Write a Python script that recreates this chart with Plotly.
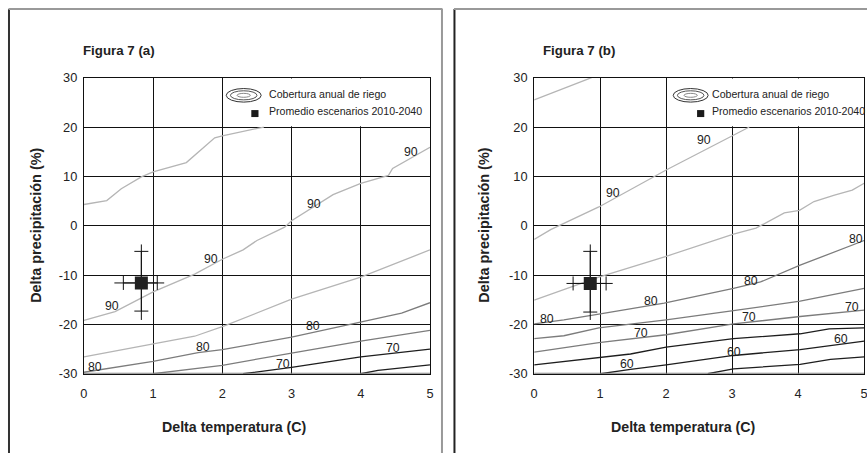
import plotly.graph_objects as go

# page size (slightly larger than the 867x453 window; the photographed page is mapped
# with a small offset/scale, so positions below are given in photographed pixels)
W, H = 871, 462
SX, OX = 0.992, 2.5
SY, OY = 0.9706, 7.4

# ---------------- Panel (a) data: iso-coverage lines (Delta T, Delta P) ----------------
a_l1_t = [0, 0.33, 0.54, 0.83, 1.0, 1.48, 1.89, 2.0, 2.6]
a_l1_p = [4.3, 5.1, 7.5, 9.9, 10.9, 12.8, 17.8, 18.2, 20.0]
a_l2_t = [0, 0.45, 1.0, 1.6, 2.0, 2.3, 2.5, 2.9, 3.0, 3.6, 4.0, 4.4, 4.46, 5.0]
a_l2_p = [-19.2, -17.4, -13.4, -9.8, -6.8, -4.9, -3.0, -0.3, 1.0, 6.3, 8.6, 10.2, 11.6, 15.9]
a_l3_t = [0, 1.0, 1.6, 2.03, 2.51, 3.0, 4.0, 5.0]
a_l3_p = [-26.6, -23.9, -22.4, -20.3, -17.7, -14.9, -10.4, -4.9]
a_l4_t = [0, 1.0, 1.65, 2.0, 3.0, 3.1, 4.0, 4.59, 5.0]
a_l4_p = [-29.7, -27.5, -25.7, -25.1, -22.6, -22.3, -19.6, -17.7, -15.6]
a_l5_t = [1.0, 2.0, 3.0, 4.0, 5.0]
a_l5_p = [-30.0, -28.3, -25.8, -23.4, -21.2]
a_l6_t = [2.3, 3.0, 4.0, 5.0]
a_l6_p = [-30.0, -28.7, -26.6, -25.0]
a_l7_t = [4.0, 4.25, 5.0]
a_l7_p = [-30.0, -29.3, -28.2]

a_lab_text = ["90", "90", "90", "90", "80", "80", "80", "70", "70"]
a_lab_t = [0.40, 1.84, 3.33, 4.73, 0.16, 1.72, 3.31, 2.87, 4.46]
a_lab_p = [-16.3, -6.8, 4.5, 14.9, -28.7, -24.6, -20.4, -28.1, -24.8]

a_mean_t, a_mean_p = 0.83, -11.6
a_cap_t = [0.57, 1.06]
a_end_t = [0.44, 1.16]
a_cap_p = [-17.3, -5.2]
a_end_p = [-19.1, -3.8]

# ---------------- Panel (b) data ----------------
b_l1_t = [0, 0.87]
b_l1_p = [25.5, 30.0]
b_l2_t = [0, 0.25, 0.98, 2.0, 3.26]
b_l2_p = [-2.8, -0.8, 3.8, 11.3, 20.0]
b_l3_t = [0, 0.98, 2.0, 3.02, 3.36, 3.79, 4.02, 4.24, 4.55, 4.82, 5.0]
b_l3_p = [-15.1, -10.4, -6.2, -1.7, -0.5, 2.6, 3.1, 4.9, 6.2, 7.2, 8.6]
b_l4_t = [0, 0.45, 0.98, 1.97, 3.02, 3.43, 4.03, 5.0]
b_l4_p = [-19.9, -19.1, -17.9, -15.7, -12.7, -11.4, -8.0, -3.0]
b_l5_t = [0, 0.45, 0.98, 2.0, 3.02, 4.03, 5.0]
b_l5_p = [-22.9, -22.3, -20.7, -19.1, -17.2, -15.3, -12.7]
b_l6_t = [0, 0.98, 2.0, 3.02, 4.03, 5.0]
b_l6_p = [-25.6, -23.7, -22.1, -19.9, -18.4, -17.1]
b_l7_t = [0, 0.98, 1.46, 2.0, 3.02, 4.03, 4.47, 5.0]
b_l7_p = [-28.2, -26.8, -26.0, -24.6, -22.9, -21.9, -20.9, -20.7]
b_l8_t = [1.01, 1.46, 2.0, 3.02, 4.03, 5.0]
b_l8_p = [-30.0, -29.1, -28.2, -26.3, -25.1, -23.4]
b_l9_t = [2.63, 3.02, 4.03, 4.49, 5.0]
b_l9_p = [-30.0, -29.0, -28.1, -27.1, -26.6]

b_lab_text = ["90", "90", "80", "80", "80", "80", "70", "70", "70", "60", "60", "60"]
b_lab_t = [2.58, 1.19, 0.20, 1.77, 3.28, 4.87, 1.62, 3.26, 4.82, 1.41, 3.03, 4.65]
b_lab_p = [17.3, 6.7, -18.9, -15.3, -11.2, -2.7, -21.7, -18.6, -16.4, -28.1, -25.6, -22.9]

b_mean_t, b_mean_p = 0.85, -11.7
b_cap_t = [0.59, 1.09]
b_end_t = [0.49, 1.19]
b_cap_p = [-17.5, -5.2]
b_end_p = [-19.1, -3.8]

x_ticks = [0, 1, 2, 3, 4, 5]
y_ticks = [-30, -20, -10, 0, 10, 20, 30]

titles = ["Figura 7 (a)", "Figura 7 (b)"]
x_title = "Delta temperatura (C)"
y_title = "Delta precipitación (%)"
legend_texts = ["Cobertura anual de riego", "Promedio escenarios 2010-2040"]

LIGHT, MID, DARK = "#b5b5b5", "#7c7c7c", "#1e1e1e"
FONT = "Liberation Sans, Arial, Helvetica, sans-serif"

panel_a = [(a_l1_t, a_l1_p, LIGHT), (a_l2_t, a_l2_p, LIGHT), (a_l3_t, a_l3_p, LIGHT),
           (a_l4_t, a_l4_p, MID), (a_l5_t, a_l5_p, MID), (a_l6_t, a_l6_p, DARK),
           (a_l7_t, a_l7_p, DARK)]
panel_b = [(b_l1_t, b_l1_p, LIGHT), (b_l2_t, b_l2_p, LIGHT), (b_l3_t, b_l3_p, LIGHT),
           (b_l4_t, b_l4_p, MID), (b_l5_t, b_l5_p, MID), (b_l6_t, b_l6_p, MID),
           (b_l7_t, b_l7_p, DARK), (b_l8_t, b_l8_p, DARK), (b_l9_t, b_l9_p, DARK)]


def px(x):
    return ((x - OX) / SX) / W


def py(y):
    return min(1 - 1.0 / H, 1 - ((y - OY) / SY) / H)


fig = go.Figure()

panels = [
    dict(lines=panel_a, lab=(a_lab_text, a_lab_t, a_lab_p), mean=(a_mean_t, a_mean_p),
         cap_t=a_cap_t, end_t=a_end_t, cap_p=a_cap_p, end_p=a_end_p, xa="x", ya="y",
         dom=[82.5, 429.0], title_x=80, xt_x=233.3, yt_x=35, leg_ell=242.5, leg_sq=253.7, leg_tx=266),
    dict(lines=panel_b, lab=(b_lab_text, b_lab_t, b_lab_p), mean=(b_mean_t, b_mean_p),
         cap_t=b_cap_t, end_t=b_end_t, cap_p=b_cap_p, end_p=b_end_p, xa="x2", ya="y2",
         dom=[533.3, 863.7], title_x=540, xt_x=682.5, yt_x=483.3, leg_ell=690.0, leg_sq=700.0, leg_tx=709.3),
]

shapes = []
annotations = []
for i, pn in enumerate(panels):
    xa, ya = pn["xa"], pn["ya"]
    for t, p, c in pn["lines"]:
        fig.add_trace(go.Scatter(x=t, y=p, mode="lines", line=dict(color=c, width=1.3),
                                 xaxis=xa, yaxis=ya, hoverinfo="skip"))
    mt, mp = pn["mean"]
    # outer whiskers (no caps)
    fig.add_trace(go.Scatter(
        x=[mt], y=[mp], mode="markers", marker=dict(size=1, color="rgba(0,0,0,0)"),
        error_x=dict(type="data", symmetric=False, array=[pn["end_t"][1] - mt],
                     arrayminus=[mt - pn["end_t"][0]], width=0, thickness=1, color="#111"),
        error_y=dict(type="data", symmetric=False, array=[pn["end_p"][1] - mp],
                     arrayminus=[mp - pn["end_p"][0]], width=0, thickness=1, color="#111"),
        xaxis=xa, yaxis=ya, hoverinfo="skip"))
    # inner whiskers with caps + mean marker
    fig.add_trace(go.Scatter(
        x=[mt], y=[mp], mode="markers", marker=dict(symbol="square", size=13, color="#222",
                                                    line=dict(width=0)),
        error_x=dict(type="data", symmetric=False, array=[pn["cap_t"][1] - mt],
                     arrayminus=[mt - pn["cap_t"][0]], width=7, thickness=1, color="#111"),
        error_y=dict(type="data", symmetric=False, array=[pn["cap_p"][1] - mp],
                     arrayminus=[mp - pn["cap_p"][0]], width=7, thickness=1, color="#111"),
        xaxis=xa, yaxis=ya, hoverinfo="skip"))

    txt, lt, lp = pn["lab"]
    for s, t, p in zip(txt, lt, lp):
        annotations.append(dict(x=t, y=p, xref=xa, yref=ya, text=s, showarrow=False,
                                xanchor="center", yanchor="middle",
                                font=dict(family=FONT, size=12.3, color="#222")))

    # legend box (white, hides grid and lines)
    shapes.append(dict(type="rect", xref=xa, yref=ya, x0=2.022, x1=4.985, y0=20.15, y1=29.85,
                       fillcolor="white", line=dict(width=0), layer="above"))
    cx, cy, ew, eh = pn["leg_ell"], 95.0, 35.0, 13.6
    for fw, fh, col in [(1.0, 1.0, "#333"), (0.76, 0.67, "#555"), (0.38, 0.29, "#888")]:
        shapes.append(dict(type="circle", xref="paper", yref="paper",
                           x0=px(cx - ew * fw / 2), x1=px(cx + ew * fw / 2),
                           y0=py(cy + eh * fh / 2), y1=py(cy - eh * fh / 2),
                           line=dict(color=col, width=1), layer="above"))
    sq = pn["leg_sq"]
    shapes.append(dict(type="rect", xref="paper", yref="paper", x0=px(sq - 3.6), x1=px(sq + 3.6),
                       y0=py(116.8), y1=py(109.8), fillcolor="#1a1a1a", line=dict(width=0), layer="above"))
    for k, ly in enumerate([93.4, 111.0]):
        annotations.append(dict(x=px(pn["leg_tx"]), y=py(ly), xref="paper", yref="paper",
                                text=legend_texts[k], showarrow=False, xanchor="left",
                                yanchor="middle",
                                font=dict(family=FONT, size=10.6, color="#222")))
    # bottom axis line (greyish)
    shapes.append(dict(type="line", xref=xa, yref=ya, x0=0, x1=5, y0=-30, y1=-30,
                       line=dict(color="#808080", width=2), layer="above"))

    # titles
    annotations.append(dict(x=px(pn["title_x"]), y=py(50.5), xref="paper", yref="paper",
                            text="<b>" + titles[i] + "</b>", showarrow=False, xanchor="left",
                            yanchor="middle",
                            font=dict(family=FONT, size=13.3, color="#222")))
    annotations.append(dict(x=px(pn["xt_x"]), y=py(427.7), xref="paper", yref="paper",
                            text="<b>" + x_title + "</b>", showarrow=False,
                            xanchor="center", yanchor="middle",
                            font=dict(family=FONT, size=14.2, color="#222")))
    annotations.append(dict(x=px(pn["yt_x"]), y=py(225.5), xref="paper", yref="paper",
                            text="<b>" + y_title + "</b>", showarrow=False, textangle=-90,
                            xanchor="center", yanchor="middle",
                            font=dict(family=FONT, size=14.4, color="#222")))

    axis_common = dict(showgrid=True, gridcolor="#111", gridwidth=1, showline=True,
                       linecolor="#111", linewidth=1, mirror=True, zeroline=False,
                       ticks="outside", tickcolor="rgba(0,0,0,0)",
                       tickfont=dict(family=FONT, size=12.8, color="#222"))
    sfx = "" if i == 0 else "2"
    fig.layout["xaxis" + sfx] = dict(axis_common, range=[0, 5], tickvals=x_ticks,
                                     ticktext=[str(v) for v in x_ticks], ticklen=8,
                                     domain=[px(pn["dom"][0]), px(pn["dom"][1])],
                                     anchor="y" + sfx)
    fig.layout["yaxis" + sfx] = dict(axis_common, range=[-30, 30], tickvals=y_ticks,
                                     ticktext=[str(v) for v in y_ticks], ticklen=3,
                                     domain=[py(374.3), py(77.3)], anchor="x" + sfx)

# panel frames
shapes += [
    dict(type="line", xref="paper", yref="paper", x0=px(7.5), x1=px(7.5), y0=py(6), y1=0,
         line=dict(color="#333", width=2)),
    dict(type="line", xref="paper", yref="paper", x0=px(7), x1=px(441.5), y0=py(6), y1=py(6),
         line=dict(color="#999", width=2)),
    dict(type="line", xref="paper", yref="paper", x0=px(441), x1=px(441), y0=py(6), y1=0,
         line=dict(color="#999", width=2)),
    dict(type="line", xref="paper", yref="paper", x0=px(453.5), x1=px(453.5), y0=py(6), y1=0,
         line=dict(color="#222", width=2)),
    dict(type="line", xref="paper", yref="paper", x0=px(453), x1=1, y0=py(6), y1=py(6),
         line=dict(color="#999", width=2)),
]

fig.update_layout(width=W, height=H, margin=dict(l=0, r=0, t=0, b=0, pad=0),
                  paper_bgcolor="white", plot_bgcolor="white", showlegend=False,
                  shapes=shapes, annotations=annotations)

fig.write_html("out.html", config={"displayModeBar": False},
               post_script="document.documentElement.style.overflow='hidden';"
                           "document.body.style.margin='0';document.body.style.overflow='hidden';")
